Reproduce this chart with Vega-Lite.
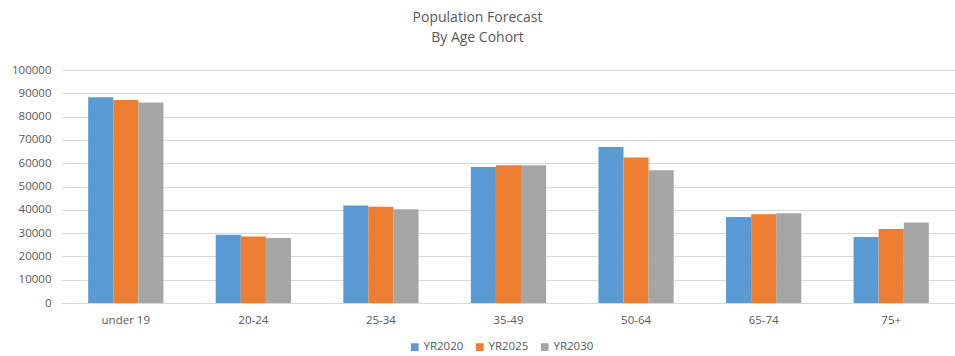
{
  "$schema": "https://vega.github.io/schema/vega-lite/v6.json",
  "autosize": "none",
  "width": 893,
  "height": 233,
  "padding": {"left": 62, "top": 70, "right": 0, "bottom": 53},
  "background": "white",
  "title": {
    "text": ["Population Forecast", "By Age Cohort"],
    "anchor": "middle",
    "frame": "group",
    "dx": -31,
    "offset": 19,
    "font": "Open Sans",
    "fontSize": 14,
    "fontWeight": "normal",
    "color": "#595959",
    "lineHeight": 20
  },
  "config": {
    "view": {"stroke": null},
    "font": "Open Sans",
    "axis": {"labelColor": "#595959", "labelFontSize": 11.5, "labelFont": "Open Sans"},
    "legend": {"labelColor": "#595959", "labelFontSize": 11.5, "labelFont": "Open Sans"}
  },
  "data": {
    "values": [
      {"cohort": "under 19", "year": "YR2020", "population": 88300},
      {"cohort": "under 19", "year": "YR2025", "population": 87100},
      {"cohort": "under 19", "year": "YR2030", "population": 86000},
      {"cohort": "20-24", "year": "YR2020", "population": 29300},
      {"cohort": "20-24", "year": "YR2025", "population": 28500},
      {"cohort": "20-24", "year": "YR2030", "population": 27900},
      {"cohort": "25-34", "year": "YR2020", "population": 41800},
      {"cohort": "25-34", "year": "YR2025", "population": 41300},
      {"cohort": "25-34", "year": "YR2030", "population": 40200},
      {"cohort": "35-49", "year": "YR2020", "population": 58400},
      {"cohort": "35-49", "year": "YR2025", "population": 59100},
      {"cohort": "35-49", "year": "YR2030", "population": 59100},
      {"cohort": "50-64", "year": "YR2020", "population": 67000},
      {"cohort": "50-64", "year": "YR2025", "population": 62400},
      {"cohort": "50-64", "year": "YR2030", "population": 57000},
      {"cohort": "65-74", "year": "YR2020", "population": 36900},
      {"cohort": "65-74", "year": "YR2025", "population": 38100},
      {"cohort": "65-74", "year": "YR2030", "population": 38500},
      {"cohort": "75+", "year": "YR2020", "population": 28300},
      {"cohort": "75+", "year": "YR2025", "population": 31800},
      {"cohort": "75+", "year": "YR2030", "population": 34600}
    ]
  },
  "mark": {"type": "bar"},
  "encoding": {
    "x": {
      "field": "cohort",
      "type": "nominal",
      "sort": null,
      "title": null,
      "scale": {"paddingInner": 0.41, "paddingOuter": 0.205},
      "axis": {
        "labelAngle": 0,
        "ticks": false,
        "domain": true,
        "domainColor": "#D9D9D9",
        "labelPadding": 11
      }
    },
    "xOffset": {"field": "year", "type": "nominal"},
    "y": {
      "field": "population",
      "type": "quantitative",
      "title": null,
      "scale": {"domain": [0, 100000]},
      "axis": {
        "values": [0, 10000, 20000, 30000, 40000, 50000, 60000, 70000, 80000, 90000, 100000],
        "format": "d",
        "domain": false,
        "ticks": false,
        "gridColor": "#D9D9D9",
        "labelPadding": 11
      }
    },
    "color": {
      "field": "year",
      "type": "nominal",
      "title": null,
      "scale": {"domain": ["YR2020", "YR2025", "YR2030"], "range": ["#5B9BD5", "#ED7D31", "#A5A5A5"]},
      "legend": {
        "orient": "none",
        "legendX": 347,
        "legendY": 271,
        "direction": "horizontal",
        "symbolType": "square",
        "symbolSize": 60,
        "symbolOffset": 0,
        "labelOffset": 3,
        "columnPadding": 10
      }
    }
  }
}
